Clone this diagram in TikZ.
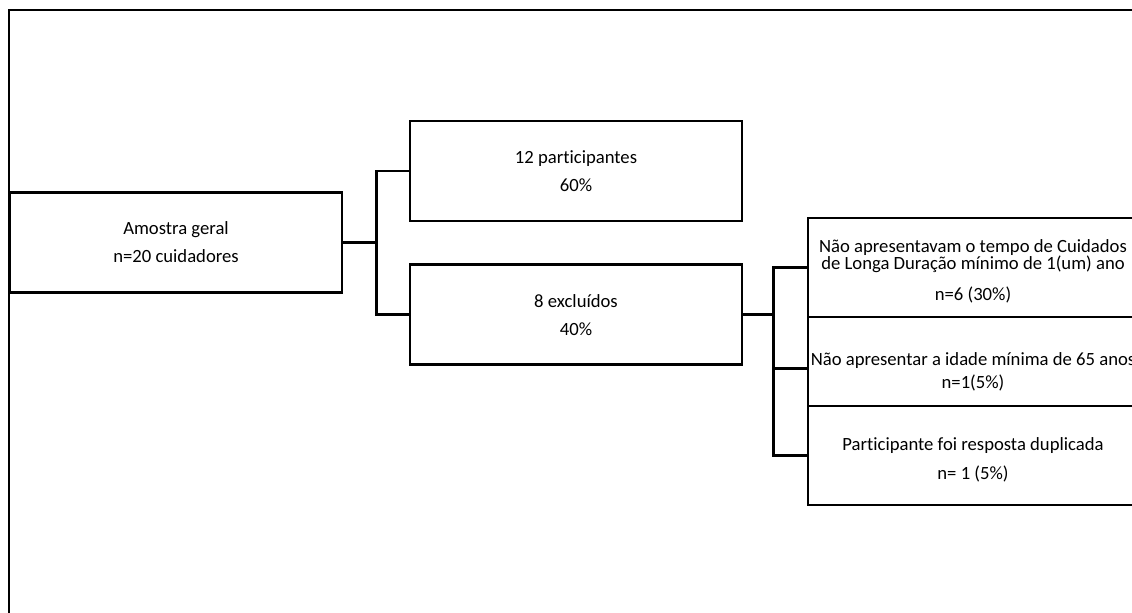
\documentclass[tikz,border=0pt]{standalone}
\usepackage{fontspec}
\setmainfont{Carlito}[Ligatures=NoCommon]
\usetikzlibrary{positioning}
\tikzset{
  stage/.style={rectangle,draw,line width=2.2pt,align=center,
                minimum width=249pt,minimum height=75pt,inner sep=0pt,
                font=\fontsize{14}{12.5}\selectfont},
  link/.style={line width=2.2pt},
  frame/.style={line width=1.5pt},
}

\begin{document}
\begin{tikzpicture}
    [x=0.75pt,y=-0.75pt,
     crit/.style={stage,minimum width=247.5pt,minimum height=74.25pt},
     node distance=30.75pt]
  \useasboundingbox (0,0) rectangle (1132,613);
  \clip (0,0) rectangle (1132,613);
  % frame
  \draw[frame] (9,613) -- (9,10) -- (1132,10);

  % boxes
  \node[stage] (amostra) at (176,242.5) {Amostra geral\\[8.5pt]n=20 cuidadores};
  \node[stage] (part) at (576,171)      {12 participantes\\[8.5pt]60\%};
  \node[stage] (excl) [below=of part]   {8 excluídos\\[8.5pt]40\%};
  \node[crit] (tempo) at (973,267.5)
    {\rule{0pt}{16pt}Não apresentavam o tempo de Cuidados\\de Longa Duração mínimo de 1(um) ano\\[10pt]n=6 (30\%)};
  \node[crit,minimum height=66.75pt] (idade) [below=-2.2pt of tempo]
    {\rule{0pt}{25pt}Não apresentar a idade mínima de 65 anos\\[4.75pt]n=1(5\%)};
  \node[crit] (dupl) [below=-2.2pt of idade]
    {\rule{0pt}{16pt}Participante foi resposta duplicada\\[9.25pt]n= 1 (5\%)};

  % connectors
  \coordinate (forkA) at ([xshift=24.5pt]amostra.east);
  \coordinate (forkB) at ([xshift=22.3pt]excl.east);
  \coordinate (idadein) at ([yshift=-5.25pt]idade.west);
  \draw[link] (amostra.east) -- (forkA);
  \draw[link] (part.west) -| (forkA) |- (excl.west);
  \draw[link] (excl.east) -- (forkB);
  \draw[link] (tempo.west) -| (forkB) |- (dupl.west);
  \draw[link] (forkB |- idadein) -- (idadein);
\end{tikzpicture}
\end{document}
